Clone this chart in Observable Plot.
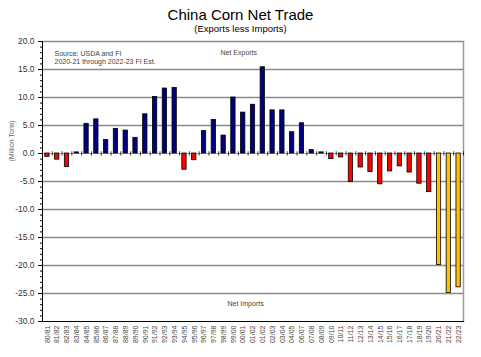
<!DOCTYPE html>
<html>
<head>
<meta charset="utf-8">
<script src="https://cdn.jsdelivr.net/npm/d3@7"></script>
<script src="https://cdn.jsdelivr.net/npm/@observablehq/plot@0.6"></script>
<style>
  html, body { margin: 0; padding: 0; background: #fff; }
  body { font-family: "Liberation Sans", Arial, sans-serif; width: 481px; }
  #head { position: relative; height: 36px; width: 481px; }
  #title { position: absolute; left: 0; width: 481px; top: 7px; text-align: center; font-size: 15px; line-height: 1; color: #000; }
  #subtitle { position: absolute; left: 0; width: 481px; top: 23.5px; text-align: center; font-size: 9.5px; line-height: 1; color: #000; }
  #chart svg { display: block; }
</style>
</head>
<body>
<div id="head">
  <div id="title">China Corn Net Trade</div>
  <div id="subtitle">(Exports less Imports)</div>
</div>
<div id="chart"></div>
<script>
const seasons = [
  "80/81","81/82","82/83","83/84","84/85","85/86","86/87","87/88","88/89","89/90",
  "90/91","91/92","92/93","93/94","94/95","95/96","96/97","97/98","98/99","99/00",
  "00/01","01/02","01/02","02/03","03/04","04/05","06/07","07/08","08/09","09/10",
  "10/11","11/12","12/13","13/14","14/15","15/16","16/17","17/18","18/19","19/20",
  "20/21","21/22","22/23"
];
const netTrade = [
  -0.6, -1.1, -2.4, 0.2, 5.3, 6.1, 2.4, 4.4, 4.1, 2.8,
  7.0, 10.1, 11.6, 11.7, -2.9, -1.2, 4.0, 6.0, 3.2, 10.0,
  7.3, 8.7, 15.4, 7.7, 7.7, 3.8, 5.4, 0.6, 0.2, -1.0,
  -0.7, -5.1, -2.5, -3.3, -5.5, -3.2, -2.3, -3.4, -5.4, -6.9,
  -19.9, -24.9, -23.9
];
const estimatedIdx = [40, 41, 42];
const yMajorTicks = [-30, -25, -20, -15, -10, -5, 0, 5, 10, 15, 20];
const yMinorTicks = d3.range(-30, 21, 1);
const gridLines = [-25, -20, -15, -10, -5, 5, 10, 15, 20];
const notes = {
  source: "Source: USDA and FI\n2020-21 through 2022-23 FI Est.",
  exports: "Net Exports",
  imports: "Net Imports",
  yLabel: "(Million Tons)"
};

const data = seasons.map((s, i) => ({
  i,
  season: s,
  value: netTrade[i],
  kind: estimatedIdx.includes(i) ? "est" : (netTrade[i] >= 0 ? "exp" : "imp")
}));

const W = 481, H = 321, ML = 42, MR = 18, MT = 5, MB = 36;
const step = (W - ML - MR) / seasons.length;
const font = "Liberation Sans, Arial, sans-serif";

const chart = Plot.plot({
  width: W,
  height: H,
  marginLeft: ML,
  marginRight: MR,
  marginTop: MT,
  marginBottom: MB,
  style: { fontFamily: font, background: "#fff", color: "#222" },
  x: { type: "band", domain: d3.range(seasons.length), paddingInner: 0.56, paddingOuter: 0.28 },
  y: { domain: [-30, 20] },
  color: { domain: ["exp", "imp", "est"], range: ["#000080", "#ff0000", "#ffc000"] },
  marks: [
    Plot.ruleY(gridLines, { stroke: "#8a8a8a", strokeWidth: 1.5 }),
    Plot.frame({ anchor: "right", stroke: "#9a9a9a", strokeWidth: 1.5 }),
    Plot.ruleY([0], { stroke: "#888", strokeWidth: 0.8 }),
    Plot.barY(data, { x: "i", y: "value", fill: "kind", stroke: "#000", strokeWidth: 0.8 }),
    Plot.ruleX(data, { x: "i", y1: 0.3, y2: -0.45, dx: step / 2, stroke: "#000", strokeWidth: 0.8 }),
    Plot.frame({ anchor: "left", stroke: "#000", strokeWidth: 1 }),
    Plot.frame({ anchor: "bottom", stroke: "#000", strokeWidth: 1 }),
    Plot.axisY({ ticks: yMinorTicks, tickSize: 2, tickFormat: () => "", label: null, stroke: "#000" }),
    Plot.axisY({ ticks: yMajorTicks, tickSize: 4, tickPadding: 4, tickFormat: d => d.toFixed(1), fontSize: 8.5, label: null, stroke: "#000", fill: "#333" }),
    Plot.axisX({ tickFormat: i => seasons[i], tickRotate: -90, tickSize: 0, tickPadding: 4, fontSize: 7, label: null, fill: "#444" }),
    Plot.text([notes.source], { text: d => d, frameAnchor: "top-left", textAnchor: "start", lineAnchor: "top", dx: 12, dy: 9, fontSize: 7, lineHeight: 1.1, fill: "#444" }),
    Plot.text([notes.exports], { text: d => d, frameAnchor: "top-left", textAnchor: "start", lineAnchor: "top", dx: 178, dy: 9, fontSize: 7, fill: "#444" }),
    Plot.text([notes.imports], { text: d => d, frameAnchor: "bottom-left", textAnchor: "start", lineAnchor: "bottom", dx: 185, dy: -16, fontSize: 7, fill: "#444" }),
    Plot.text([notes.yLabel], { text: d => d, frameAnchor: "left", rotate: -90, dx: -31, dy: -20, fontSize: 7, fill: "#666" })
  ]
});
document.getElementById("chart").appendChild(chart);
</script>
</body>
</html>
